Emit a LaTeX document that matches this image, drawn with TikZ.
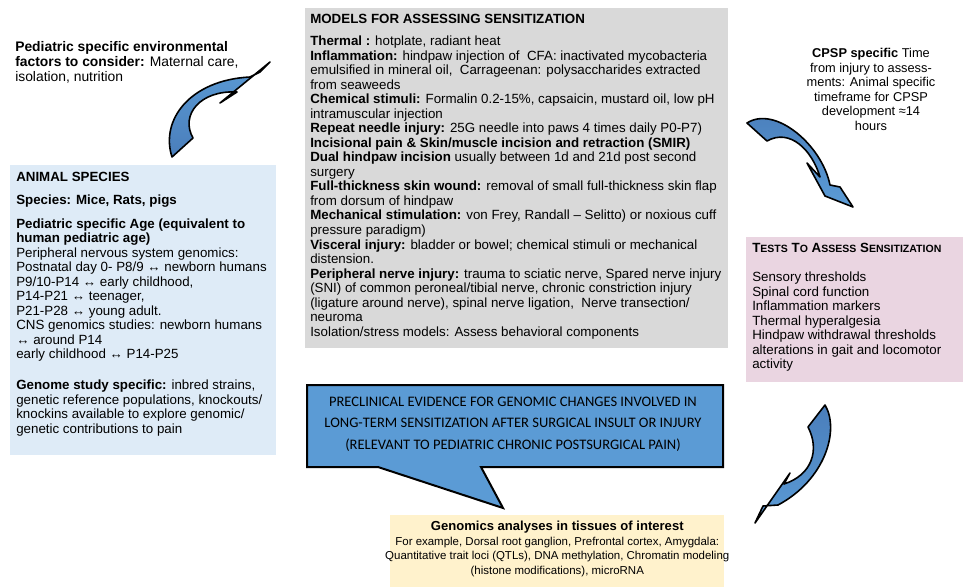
\documentclass[tikz,border=0pt]{standalone}
\usepackage{fontspec}
\setmainfont{Liberation Sans}
\newfontfamily\calibrifont{Carlito}
\usetikzlibrary{positioning}
\definecolor{speciesblue}{HTML}{DEEBF7}
\definecolor{modelsgrey}{HTML}{D9D9D9}
\definecolor{testspink}{HTML}{EAD5E1}
\definecolor{genomicsyellow}{HTML}{FFF2CC}
\definecolor{calloutblue}{HTML}{5B9BD5}
\definecolor{arrowdark}{HTML}{4A7EBB}
\definecolor{arrowlight}{HTML}{5B9BD5}
\newcommand{\tinycaps}[2]{#1{\fontsize{7.9pt}{9pt}\selectfont #2}}

\begin{document}
\begin{tikzpicture}[x=0.75pt, y=-0.75pt,
  panel/.style={rectangle, inner sep=0pt, anchor=north west},
  body/.style={font=\fontsize{10pt}{10.9pt}\selectfont, inner sep=0pt, align=left, anchor=north west},
  bent/.style={draw=black, line width=1.2pt, line join=round}]
\useasboundingbox (0,0) rectangle (965,587);

% Boxes
\node[panel, fill=speciesblue, minimum width=199.5pt, minimum height=217.5pt] (species) at (10,165) {};
\node[panel, fill=modelsgrey, minimum width=317.25pt, minimum height=255pt] (models) at (305,8) {};
\node[panel, fill=testspink, minimum width=162.75pt, minimum height=108.75pt] (tests) at (746,237) {};
\node[panel, fill=genomicsyellow, minimum width=250.5pt, minimum height=54pt] (genomics) at (390,515) {};

% Callout
\draw[fill=calloutblue, line width=1.5pt, line join=miter] (307,385) -- (723,385) -- (723,467) -- (481,467) -- (503,508) -- (378,467) -- (307,467) -- cycle;
\node[font=\calibrifont\fontsize{10.9pt}{16pt}\selectfont, align=center, inner sep=0pt] (evidence) at (513,424)
  {PRECLINICAL EVIDENCE FOR GENOMIC CHANGES INVOLVED IN\\
   LONG-TERM SENSITIZATION AFTER SURGICAL INSULT OR INJURY\\
   (RELEVANT TO PEDIATRIC CHRONIC POSTSURGICAL PAIN)};

% Curved arrows
\draw[bent, top color=arrowlight, bottom color=arrowdark]
  (172,157) .. controls (160,120) and (190,80) .. (250,77) -- (260,72) -- (270,62) -- (220,103) -- (237,92)
  .. controls (200,90) and (180,115) .. (193,138) -- cycle;
\draw[bent, top color=arrowdark, bottom color=arrowlight]
  (747,123) .. controls (775,105) and (822,145) .. (830,185) -- (840,187) -- (853,207) -- (825,196) -- (807,163) -- (820,177)
  .. controls (812,150) and (790,128) .. (767,141) -- cycle;
\draw[bent, top color=arrowdark, bottom color=arrowlight]
  (825,405) .. controls (840,430) and (825,480) .. (778,505) -- (763,506) -- (755,523) -- (790,473) -- (784,484)
  .. controls (812,475) and (820,450) .. (808,427) -- cycle;

% Text
\node[body, font=\fontsize{10.4pt}{11.3pt}\selectfont] (envfactors) at (15,41)
  {\textbf{Pediatric specific environmental}\\
   \textbf{factors to consider:} Maternal care,\\
   isolation, nutrition};

\node[body] (speciestext) at (species.north west) [xshift=4.5pt, yshift=-5.5pt]
  {\textbf{ANIMAL SPECIES}\\[6.4pt]
   \textbf{Species: Mice, Rats, pigs}\\[6.4pt]
   \textbf{Pediatric specific Age (equivalent to}\\
   \textbf{human pediatric age)}\\
   Peripheral nervous system genomics:\\
   Postnatal day 0- P8/9 ↔ newborn humans\\
   P9/10-P14 ↔ early childhood,\\
   P14-P21 ↔ teenager,\\
   P21-P28 ↔ young adult.\\
   CNS genomics studies: newborn humans\\
   ↔ around P14\\
   early childhood ↔ P14-P25\\[12.4pt]
   \textbf{Genome study specific:} inbred strains,\\
   genetic reference populations, knockouts/\\
   knockins available to explore genomic/\\
   genetic contributions to pain};

\node[body] (modelstext) at (models.north west) [xshift=3.75pt, yshift=-4.5pt]
  {\textbf{MODELS FOR ASSESSING SENSITIZATION}\\[5.6pt]
   \textbf{Thermal :} hotplate, radiant heat\\
   \textbf{Inflammation:} hindpaw injection of\ \ CFA: inactivated mycobacteria\\
   emulsified in mineral oil,\ \ Carrageenan: polysaccharides extracted\\
   from seaweeds\\
   \textbf{Chemical stimuli:} Formalin 0.2-15\%, capsaicin, mustard oil, low pH\\
   intramuscular injection\\
   \textbf{Repeat needle injury:} 25G needle into paws 4 times daily P0-P7)\\
   \textbf{Incisional pain \& Skin/muscle incision and retraction (SMIR)}\\
   \textbf{Dual hindpaw incision} usually between 1d and 21d post second\\
   surgery\\
   \textbf{Full-thickness skin wound:} removal of small full-thickness skin flap\\
   from dorsum of hindpaw\\
   \textbf{Mechanical stimulation:} von Frey, Randall – Selitto) or noxious cuff\\
   pressure paradigm)\\
   \textbf{Visceral injury:} bladder or bowel; chemical stimuli or mechanical\\
   distension.\\
   \textbf{Peripheral nerve injury:} trauma to sciatic nerve, Spared nerve injury\\
   (SNI) of common peroneal/tibial nerve, chronic constriction injury\\
   (ligature around nerve), spinal nerve ligation,\ \ Nerve transection/\\
   neuroma\\
   Isolation/stress models: Assess behavioral components};

\node[body, font=\fontsize{9.6pt}{10.9pt}\selectfont, align=center, anchor=north] (cpsp) at (871,48)
  {\textbf{CPSP specific} Time\\
   from injury to assess-\\
   ments: Animal specific\\
   timeframe for CPSP\\
   development ≈14\\
   hours};

\node[body] (teststext) at (tests.north west) [xshift=4.5pt, yshift=-4.5pt]
  {\textbf{\tinycaps{T}{ESTS} \tinycaps{T}{O} \tinycaps{A}{SSESS} \tinycaps{S}{ENSITIZATION}}\\[10.9pt]
   Sensory thresholds\\
   Spinal cord function\\
   Inflammation markers\\
   Thermal hyperalgesia\\
   Hindpaw withdrawal thresholds\\
   alterations in gait and locomotor\\
   activity};

\node[body, font=\fontsize{8.6pt}{10.9pt}\selectfont, align=center, anchor=north] (genomicstext) at (genomics.north) [yshift=-4.5pt]
  {{\fontsize{9.8pt}{10.9pt}\selectfont\textbf{Genomics analyses in tissues of interest}}\\
   For example, Dorsal root ganglion, Prefrontal cortex, Amygdala:\\
   Quantitative trait loci (QTLs), DNA methylation, Chromatin modeling\\
   (histone modifications), microRNA};
\end{tikzpicture}
\end{document}
